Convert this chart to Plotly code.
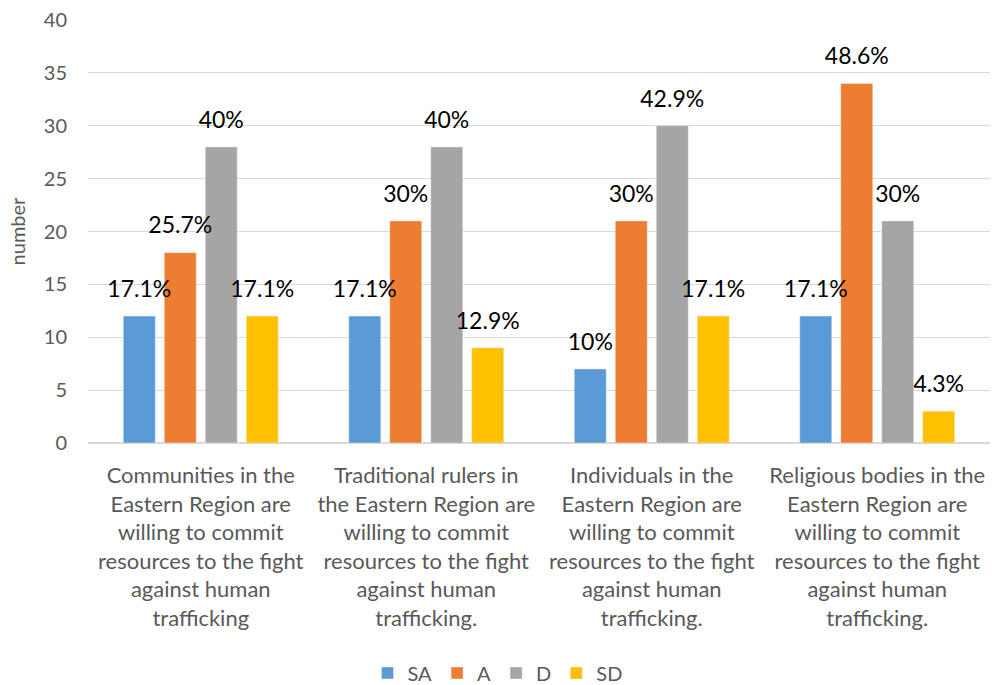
import plotly.graph_objects as go

categories = [
    "Communities in the<br>Eastern Region are<br>willing to commit<br>resources to the fight<br>against human<br>trafficking",
    "Traditional rulers in<br>the Eastern Region are<br>willing to commit<br>resources to the fight<br>against human<br>trafficking.",
    "Individuals in the<br>Eastern Region are<br>willing to commit<br>resources to the fight<br>against human<br>trafficking.",
    "Religious bodies in the<br>Eastern Region are<br>willing to commit<br>resources to the fight<br>against human<br>trafficking.",
]
series_names = ["SA", "A", "D", "SD"]
sa_values = [12, 12, 7, 12]
a_values = [18, 21, 21, 34]
d_values = [28, 28, 30, 21]
sd_values = [12, 9, 12, 3]
sa_labels = ["17.1%", "17.1%", "10%", "17.1%"]
a_labels = ["25.7%", "30%", "30%", "48.6%"]
d_labels = ["40%", "40%", "42.9%", "30%"]
sd_labels = ["17.1%", "12.9%", "17.1%", "4.3%"]
y_ticks = [0, 5, 10, 15, 20, 25, 30, 35, 40]

colors = ["#5b9bd5", "#ed7d31", "#a5a5a5", "#ffc000"]
values = [sa_values, a_values, d_values, sd_values]
labels = [sa_labels, a_labels, d_labels, sd_labels]

FONT = "Lato"
fig = go.Figure()
for name, vals, col in zip(series_names, values, colors):
    fig.add_trace(go.Bar(
        x=categories, y=vals, name=name, marker_color=col,
        offsetgroup=name, hoverinfo="skip",
    ))
for name, vals, labs in zip(series_names, values, labels):
    fig.add_trace(go.Scatter(
        x=categories, y=vals, text=labs, mode="markers+text",
        textposition="top center", offsetgroup=name,
        marker=dict(size=20, color="rgba(0,0,0,0)"),
        textfont=dict(family=FONT, size=23, color="#000000"),
        showlegend=False, hoverinfo="skip", cliponaxis=False,
    ))

fig.update_layout(
    barmode="group", scattermode="group",
    bargap=0.273, bargroupgap=0.22, scattergap=0.273,
    width=995, height=685,
    margin=dict(l=88, r=5, t=20, b=242),
    paper_bgcolor="white", plot_bgcolor="white",
    font=dict(family=FONT, size=20, color="#595959"),
    legend=dict(orientation="h", xref="container", x=0.5, xanchor="center",
                yref="container", y=0.0175, yanchor="middle",
                font=dict(size=20, color="#595959"), itemwidth=30,
                traceorder="normal"),
    showlegend=True,
)
fig.update_xaxes(showline=False, ticks="", tickfont=dict(size=22, color="#595959"),
                 tickangle=0, automargin=False, ticklabelstandoff=17)
fig.update_yaxes(range=[0, 40], tickvals=y_ticks, showgrid=True, gridcolor="#d9d9d9",
                 gridwidth=1, zeroline=True, zerolinecolor="#d9d9d9", showline=False,
                 tickfont=dict(size=20, color="#595959"), ticks="",
                 ticklabelstandoff=20,
                 title=dict(text="number", font=dict(size=20, color="#595959"), standoff=12),
                 automargin=False)

fig.write_html("out.html", config={"displayModeBar": False},
               post_script="document.body.style.margin='0';")
